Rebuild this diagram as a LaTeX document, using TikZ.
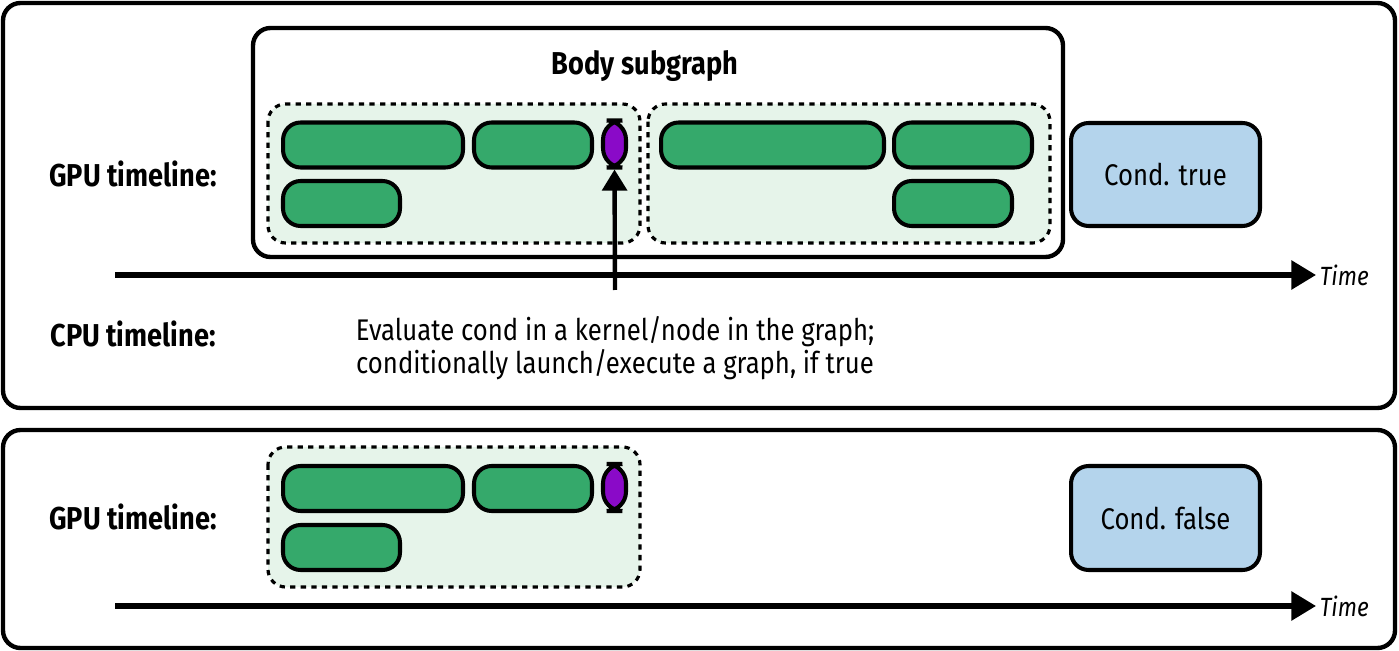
\documentclass[tikz,border=0pt]{standalone}
\usepackage{fontspec}
\setmainfont[FakeStretch=0.86]{Fira Sans}
\usetikzlibrary{arrows.meta}
\definecolor{kgreen}{HTML}{35A96B}
\definecolor{kpurple}{HTML}{8A0AC8}
\definecolor{lgreen}{HTML}{E6F4EA}
\definecolor{lblue}{HTML}{B4D4EC}
\tikzset{
    panel/.style={draw, line width=2.5pt, rounded corners=10pt},
    group/.style={draw, dashed, line width=1.8pt, fill=lgreen, rounded corners=10pt},
    kernel/.style={draw, line width=2.3pt, fill=kgreen, rounded corners=10pt},
    condk/.style={draw, line width=2.3pt, fill=kpurple, rounded corners=11pt},
    condbox/.style={draw, line width=2.3pt, fill=lblue, rounded corners=10pt, font=\fontsize{17}{20}\selectfont},
    lbl/.style={font=\fontsize{18}{20}\selectfont\bfseries},
    timeline/.style={line width=3pt, -{Triangle[length=14pt, width=16pt]}},
}
\newcommand{\blk}[5][kernel]{\node[#1, minimum width={(#4-#2)*0.02cm}, minimum height={(#5-#3)*0.02cm}, anchor=north west, inner sep=0pt] at (#2,#3) {};}
\begin{document}
\begin{tikzpicture}[x=0.02cm, y=-0.02cm]
    \useasboundingbox (0,0) rectangle (1399,651);

    % panels
    \draw[panel] (3,3) rectangle (1395,408);
    \draw[panel] (3,430) rectangle (1395,648);
    \draw[panel] (253,28) rectangle (1063,257);
    \node[lbl] (bodylbl) at (645,66) {Body subgraph};

    % top panel: graph groups
    \draw[group] (268,104) rectangle (640,243);
    \draw[group] (648,104) rectangle (1050,243);
    \node[kernel, minimum width=3.6cm, minimum height=0.9cm] (k1) at (373,145) {};
    \node[kernel, minimum width=2.36cm, minimum height=0.9cm] (k2) at (533,145) {};
    \node[condk, minimum width=0.46cm, minimum height=0.94cm, inner sep=0pt] (c1) at (614.5,144) {};
    \node[kernel, minimum width=2.34cm, minimum height=0.9cm] (k3) at (341.5,203.5) {};
    \node[kernel, minimum width=4.46cm, minimum height=0.9cm] (k4) at (772.5,145) {};
    \node[kernel, minimum width=2.76cm, minimum height=0.9cm] (k5) at (963,145) {};
    \node[kernel, minimum width=2.36cm, minimum height=0.9cm] (k6) at (953,203.5) {};
    \node[condbox, minimum width=3.78cm, minimum height=2.06cm] (ctrue) at (1165.5,174.5) {Cond. true};

    % top panel: timelines
    \node[lbl] (gpu1) at (133,174) {GPU timeline:};
    \node[lbl] (cpu1) at (133,334) {CPU timeline:};
    \coordinate (t1s) at (115,275);
    \node[font=\fontsize{15}{18}\selectfont\itshape, anchor=west, inner sep=2pt] (time1) at (1316,275) {Time};
    \draw[timeline] (t1s) -- (time1.west);
    \node[align=center, font=\fontsize{17}{17}\selectfont, text depth=0pt] (note) at (615,345)
        {Evaluate cond in a kernel/node in the graph;\\conditionally launch/execute a graph, if true};
    \coordinate (arrs) at (615,290);
    \draw[line width=2.5pt, -{Triangle[length=12pt, width=14pt]}] (arrs) -- (c1.south);

    % bottom panel
    \draw[group] (268,447) rectangle (640,587);
    \node[kernel, minimum width=3.6cm, minimum height=0.9cm] (b1) at (373,488.5) {};
    \node[kernel, minimum width=2.36cm, minimum height=0.9cm] (b2) at (533,488.5) {};
    \node[condk, minimum width=0.46cm, minimum height=0.94cm, inner sep=0pt] (c2) at (614.5,487.5) {};
    \node[kernel, minimum width=2.34cm, minimum height=0.9cm] (b3) at (341.5,547.5) {};
    \node[condbox, minimum width=3.78cm, minimum height=2.08cm] (cfalse) at (1165.5,518) {Cond. false};
    \node[lbl] (gpu2) at (133,517) {GPU timeline:};
    \coordinate (t2s) at (115,606);
    \node[font=\fontsize{15}{18}\selectfont\itshape, anchor=west, inner sep=2pt] (time2) at (1316,606) {Time};
    \draw[timeline] (t2s) -- (time2.west);
\end{tikzpicture}
\end{document}
